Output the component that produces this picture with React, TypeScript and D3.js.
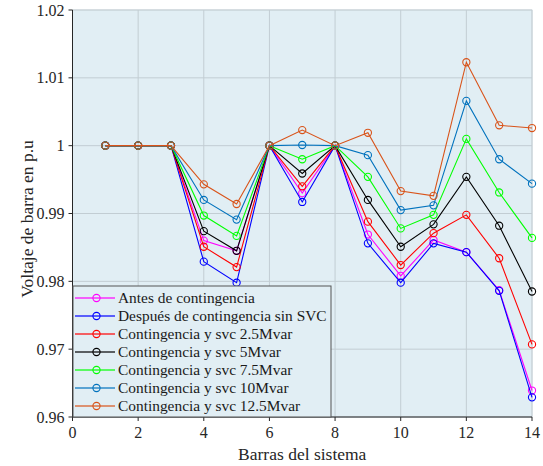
import React from 'react';
import * as d3 from 'd3';

const buses = [1, 2, 3, 4, 5, 6, 7, 8, 9, 10, 11, 12, 13, 14];

const antes = [1, 1, 1, 0.986, 0.9845, 1, 0.993, 1, 0.9869, 0.9808, 0.9861, 0.9843, 0.9787, 0.9639];
const despues = [1, 1, 1, 0.9829, 0.9798, 1, 0.9917, 1, 0.9856, 0.9798, 0.9856, 0.9843, 0.9786, 0.9629];
const svc25 = [1, 1, 1, 0.9851, 0.9821, 1, 0.994, 1, 0.9888, 0.9824, 0.9871, 0.9898, 0.9834, 0.9707];
const svc5 = [1, 1, 1, 0.9874, 0.9845, 1, 0.9959, 1, 0.992, 0.9851, 0.9884, 0.9954, 0.9882, 0.9785];
const svc75 = [1, 1, 1, 0.9897, 0.9867, 1, 0.998, 1, 0.9954, 0.9878, 0.9898, 1.001, 0.9931, 0.9864];
const svc10 = [1, 1, 1, 0.992, 0.9891, 1, 1.0001, 1, 0.9986, 0.9905, 0.9912, 1.0066, 0.998, 0.9944];
const svc125 = [1, 1, 1, 0.9943, 0.9914, 1, 1.0023, 1, 1.0019, 0.9933, 0.9926, 1.0123, 1.003, 1.0026];

const series = [
  { name: 'Antes de contingencia', color: '#ff00ff', values: antes },
  { name: 'Después de contingencia sin SVC', color: '#0000ff', values: despues },
  { name: 'Contingencia y svc 2.5Mvar', color: '#ff0000', values: svc25 },
  { name: 'Contingencia y svc 5Mvar', color: '#000000', values: svc5 },
  { name: 'Contingencia y svc 7.5Mvar', color: '#00ff00', values: svc75 },
  { name: 'Contingencia y svc 10Mvar', color: '#0072bd', values: svc10 },
  { name: 'Contingencia y svc 12.5Mvar', color: '#d95319', values: svc125 },
];

const xTicks = [0, 2, 4, 6, 8, 10, 12, 14];
const yTicks = [0.96, 0.97, 0.98, 0.99, 1, 1.01, 1.02];

export default function App() {
  const width = 543;
  const height = 466;
  const left = 72.5, right = 532, top = 10, bottom = 417;

  const x = d3.scaleLinear().domain([0, 14]).range([left, right]);
  const y = d3.scaleLinear().domain([0.96, 1.02]).range([bottom, top]);

  const line = d3.line<number>()
    .x((_, i) => x(buses[i]))
    .y(d => y(d));

  const font = { fontFamily: "'Liberation Serif', 'Times New Roman', serif" };
  const axisColor = '#262626';

  // legend box
  const lgX = 73, lgY = 286, lgW = 258, lgH = 131, rowH = 18;

  return (
    <svg width={width} height={height} style={{ position: 'absolute', left: 0, top: 0 }}>
      <rect x={0} y={0} width={width} height={height} fill="#ffffff" />
      <rect x={left} y={top} width={right - left} height={bottom - top} fill="#e1eef4" stroke="#d5dde2" strokeWidth={1} />

      {/* grid */}
      {xTicks.map(t => (
        <line key={'gx' + t} x1={x(t)} x2={x(t)} y1={top} y2={bottom} stroke="#c2cdd3" strokeWidth={1} />
      ))}
      {yTicks.map(t => (
        <line key={'gy' + t} x1={left} x2={right} y1={y(t)} y2={y(t)} stroke="#c2cdd3" strokeWidth={1} />
      ))}

      {/* series */}
      {series.map(s => (
        <g key={s.name}>
          <path d={line(s.values) || ''} fill="none" stroke={s.color} strokeWidth={1.1} />
          {s.values.map((v, i) => (
            <circle key={i} cx={x(buses[i])} cy={y(v)} r={3.6} fill="none" stroke={s.color} strokeWidth={1.1} />
          ))}
        </g>
      ))}

      {/* axes */}
      <line x1={left} x2={left} y1={top} y2={bottom} stroke={axisColor} strokeWidth={1} />
      <line x1={left} x2={right} y1={bottom} y2={bottom} stroke={axisColor} strokeWidth={1} />
      {yTicks.map(t => (
        <g key={'yt' + t}>
          <line x1={left - 4} x2={left} y1={y(t)} y2={y(t)} stroke={axisColor} />
          <text x={left - 8} y={y(t)} dy="0.35em" textAnchor="end" style={font} fontSize={16} fill={axisColor}>
            {String(t)}
          </text>
        </g>
      ))}
      {xTicks.map(t => (
        <g key={'xt' + t}>
          <line x1={x(t)} x2={x(t)} y1={bottom} y2={bottom + 4} stroke={axisColor} />
          <text x={x(t)} y={bottom + 21} textAnchor="middle" style={font} fontSize={16} fill={axisColor}>
            {String(t)}
          </text>
        </g>
      ))}

      <text x={(left + right) / 2} y={460} textAnchor="middle" style={font} fontSize={17.5} fill={axisColor}>
        Barras del sistema
      </text>
      <text transform={`translate(33, 219) rotate(-90)`} textAnchor="middle" style={font} fontSize={17.5} fill={axisColor}>
        Voltaje de barra en p.u
      </text>

      {/* legend */}
      <rect x={lgX} y={lgY} width={lgW} height={lgH} fill="#e1eef4" stroke="#555555" strokeWidth={1} />
      {series.map((s, i) => {
        const cy = lgY + 12 + i * rowH;
        return (
          <g key={'lg' + s.name}>
            <line x1={lgX + 2} x2={lgX + 42} y1={cy} y2={cy} stroke={s.color} strokeWidth={2} strokeOpacity={0.6} />
            <circle cx={lgX + 23.5} cy={cy} r={3.6} fill="none" stroke={s.color} strokeWidth={1.1} />
            <text x={lgX + 45} y={cy} dy="0.35em" style={font} fontSize={15.4} fill="#1a1a1a">
              {s.name}
            </text>
          </g>
        );
      })}
    </svg>
  );
}
